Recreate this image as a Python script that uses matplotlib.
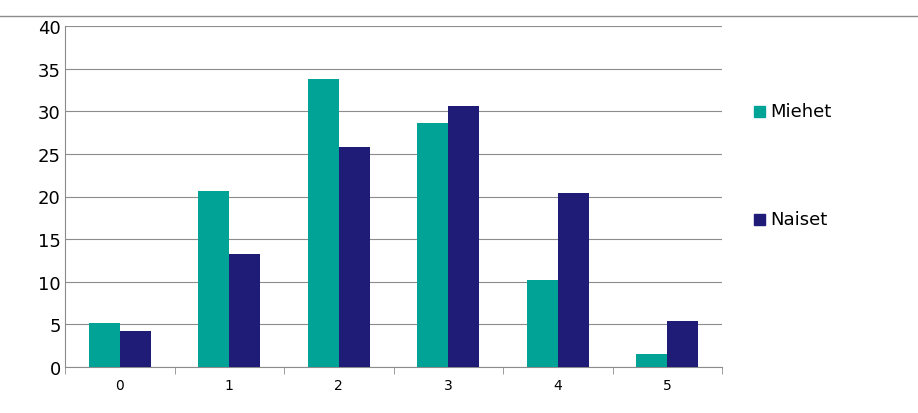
import matplotlib
matplotlib.use("Agg")
import matplotlib.pyplot as plt
import numpy as np
from matplotlib.patches import Rectangle
from matplotlib.lines import Line2D

categories = ["0", "1", "2", "3", "4", "5"]
miehet = [5.2, 20.7, 33.8, 28.6, 10.2, 1.5]
naiset = [4.2, 13.3, 25.8, 30.6, 20.4, 5.4]
yticks = [0, 5, 10, 15, 20, 25, 30, 35, 40]

c1, c2 = "#00A396", "#1E1C77"
fig = plt.figure(figsize=(9.18, 4.14), dpi=100)
ax = fig.add_axes([65/918, 1-368/414, (722-65)/918, (368-27)/414])
x = np.arange(len(categories))
w = 0.285
ax.bar(x - w/2, miehet, w, color=c1, zorder=3)
ax.bar(x + w/2, naiset, w, color=c2, zorder=3)
ax.set_xlim(-0.5, len(categories) - 0.5)
ax.set_ylim(0, 40)
ax.set_yticks(yticks)
ax.set_yticklabels([str(t) for t in yticks], fontsize=13)
ax.yaxis.grid(True, color="#8c8c8c", lw=0.8, zorder=0)
ax.set_xticks(x)
ax.set_xticklabels(categories, fontsize=10)
ax.tick_params(axis="x", length=0, pad=8)
ax.tick_params(axis="y", length=0, pad=3)
ax.set_xticks(np.arange(-0.5, len(categories)), minor=True)
ax.tick_params(axis="x", which="minor", length=5, color="#8c8c8c")
for s in ["top", "right"]:
    ax.spines[s].set_visible(False)
for s in ["left", "bottom"]:
    ax.spines[s].set_color("#8c8c8c")

fig.add_artist(Line2D([0, 1], [1-17/414, 1-17/414], color="#8c8c8c", lw=1))
for yy, lab, c in [(112, "Miehet", c1), (220, "Naiset", c2)]:
    fig.add_artist(Rectangle((754/918, 1-(yy+6)/414), 11/918, 11/414, color=c))
    fig.text(770/918, 1-yy/414, lab, fontsize=13, va="center", ha="left")

fig.savefig("out.png", dpi=100)
